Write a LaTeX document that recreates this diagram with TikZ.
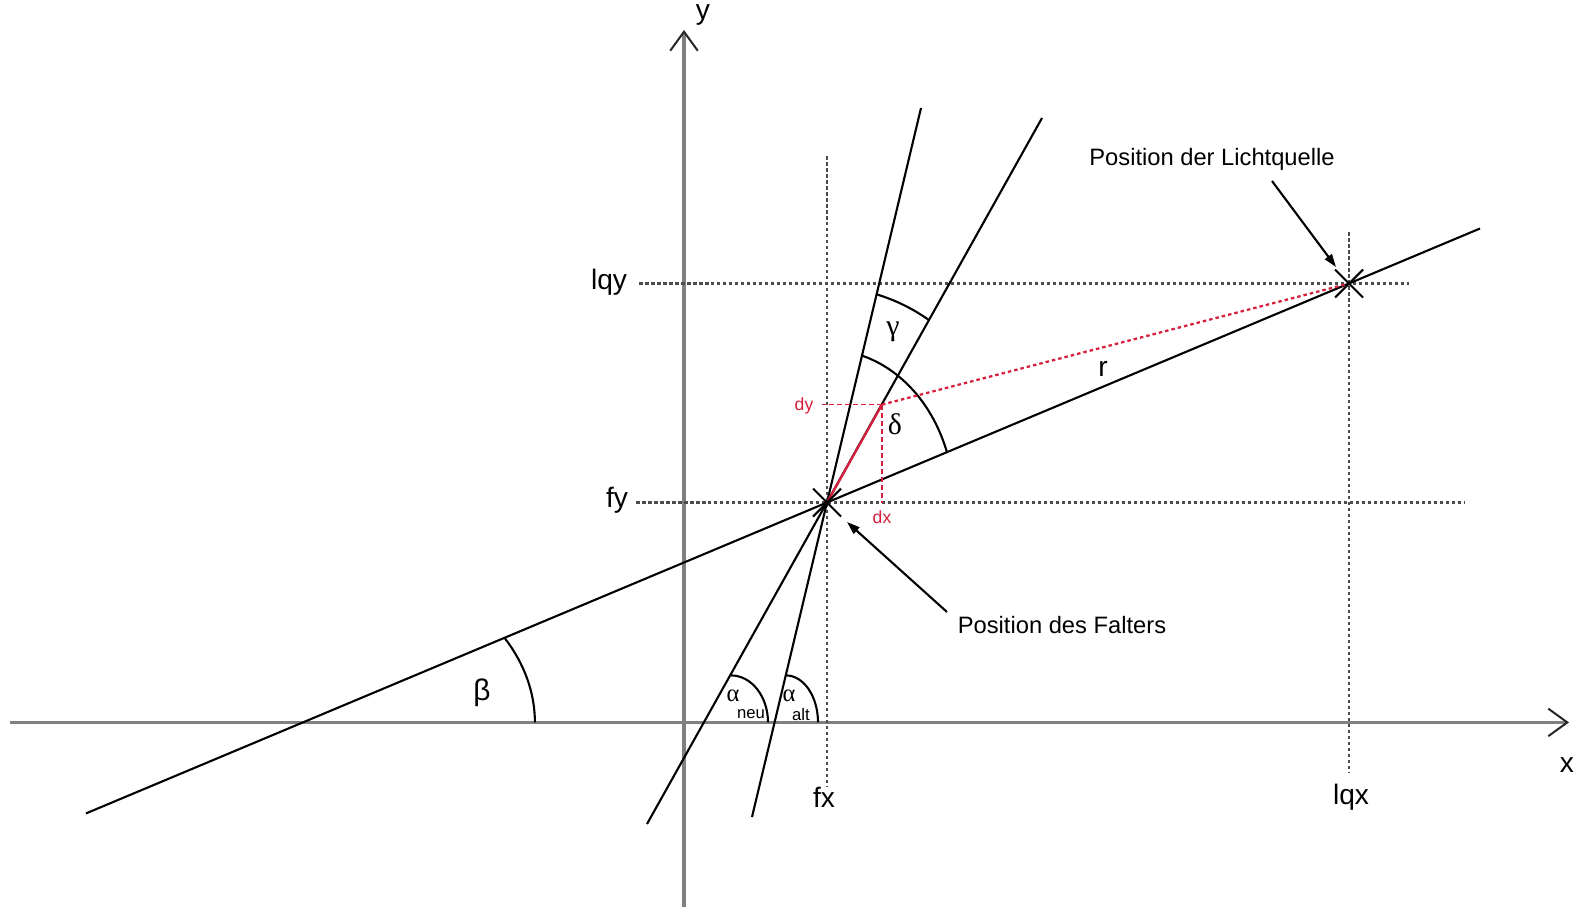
\documentclass[tikz,border=0pt]{standalone}
\usepackage{fontspec}
\setmainfont{Liberation Sans}
\newfontfamily\grk{Liberation Serif}
\usetikzlibrary{arrows.meta,calc}
\definecolor{axisgray}{RGB}{128,128,128}
\definecolor{lred}{RGB}{215,30,60}
\begin{document}
\begin{tikzpicture}[x=0.02cm,y=0.02cm,
  axis/.style={draw=axisgray,line width=0.065cm,-{Straight Barb[length=0.38cm,width=0.55cm,line width=0.04cm,color=black!85]}},
  guide/.style={draw=black!70,line width=0.05cm,dash pattern=on 0.07cm off 0.05cm},
  solidline/.style={draw=black,line width=0.042cm},
  anglearc/.style={draw=black,line width=0.042cm},
  redsolid/.style={draw=lred,line width=0.045cm},
  reddash/.style={draw=lred,line width=0.03cm,dash pattern=on 0.1cm off 0.06cm},
  reddot/.style={draw=lred,line width=0.045cm,dash pattern=on 0.07cm off 0.06cm},
  crossmark/.style={draw=black,line width=0.042cm},
  axlab/.style={font=\fontsize{16}{18}\selectfont,inner sep=0pt},
  redlab/.style={font=\fontsize{10}{12}\selectfont,text=lred,inner sep=0pt},
  grklab/.style={font=\grk\fontsize{17}{19}\selectfont,inner sep=0pt},
  alab/.style={font=\grk\fontsize{14}{15}\selectfont,inner sep=0pt},
  sublab/.style={font=\fontsize{9.5}{10}\selectfont,inner sep=0pt},
  betalab/.style={font=\fontsize{17}{19}\selectfont,inner sep=0pt},
  ann/.style={font=\fontsize{13.5}{16}\selectfont,inner sep=0pt},
  annarrow/.style={draw=black,line width=0.042cm,-{Triangle[length=0.26cm,width=0.17cm]}}
]
\useasboundingbox (0,0) rectangle (1582,-907);
\fill[white] (0,0) rectangle (1582,-907);

% coordinates
\coordinate (xL) at (10,-722.4);
\coordinate (xR) at (1569,-722.4);
\coordinate (yB) at (684,-907);
\coordinate (yT) at (684,-30);
\coordinate (F) at (827,-502.5);
\coordinate (L) at (1349,-283.5);
\coordinate (D) at (882,-404.6);
\coordinate (Dx) at (882,-502.5);
\coordinate (Dy) at (822,-404.6);
\coordinate (fyA) at (636,-502.5);
\coordinate (fyB) at (1465,-502.5);
\coordinate (lqyA) at (639,-283.5);
\coordinate (lqyB) at (1409,-283.5);
\coordinate (fxA) at (827,-156);
\coordinate (fxB) at (827,-787);
\coordinate (lqxA) at (1349,-232);
\coordinate (lqxB) at (1349,-772);
\coordinate (mA) at (86,-813.4);
\coordinate (mB) at (1480,-228.5);
\coordinate (nA) at (647,-824);
\coordinate (nB) at (1042,-118);
\coordinate (aA) at (752,-817);
\coordinate (aB) at (921,-108);
\coordinate (bC) at (302.9,-722.4);
\coordinate (nTop) at (731,-675.4);
\coordinate (aTop) at (786,-675.4);
\coordinate (lqArrS) at (1272,-181);
\coordinate (lqArrE) at (1336,-267);
\coordinate (fArrS) at (947,-612);
\coordinate (fArrE) at (847,-522);

% axes
\draw[axis] (xL) -- (xR);
\draw[axis] (yB) -- (yT);

% guide lines
\draw[guide] (fyA) -- (fyB);
\draw[guide] (lqyA) -- (lqyB);
\draw[guide] (fxA) -- (fxB);
\draw[guide] (lqxA) -- (lqxB);

% main lines
\draw[solidline] (mA) -- (mB);
\draw[solidline] (nA) -- (nB);
\draw[solidline] (aA) -- (aB);

% angle arcs
\draw[anglearc] (bC) ++(29.65:232 and 171) arc[start angle=29.65,end angle=0,x radius=232,y radius=171];
\draw[anglearc] (nTop) arc[start angle=90,end angle=0,x radius=37,y radius=47];
\draw[anglearc] (aTop) arc[start angle=90,end angle=0,x radius=32,y radius=47];
\draw[anglearc] (F) ++(57.8:191.6 and 215.5) arc[start angle=57.8,end angle=75.0,x radius=191.6,y radius=215.5];
\draw[anglearc] (F) ++(19.2:127 and 152.8) arc[start angle=19.2,end angle=74.0,x radius=127,y radius=152.8];

% red construction
\draw[reddash] (D) -- (Dy);
\draw[reddash] (D) -- (Dx);
\draw[reddot] (D) -- (L);
\draw[redsolid] (F) -- (D);

% crosses
\draw[crossmark] ($(F)+(-14,14)$) -- ($(F)+(14,-14)$);
\draw[crossmark] ($(F)+(-14,-14)$) -- ($(F)+(14,14)$);
\draw[crossmark] ($(L)+(-14,14)$) -- ($(L)+(14,-14)$);
\draw[crossmark] ($(L)+(-14,-14)$) -- ($(L)+(14,14)$);

% labels
\node[axlab] (ylab) at (703,-15) {y};
\node[axlab] (xlab) at (1567,-765) {x};
\node[axlab] (lqylab) at (609,-282) {lqy};
\node[axlab] (fylab) at (617,-500) {fy};
\node[axlab] (fxlab) at (824,-797) {fx};
\node[axlab] (lqxlab) at (1351,-797) {lqx};
\node[axlab] (rlab) at (1103,-369) {r};
\node[redlab] (dylab) at (804,-406) {dy};
\node[redlab] (dxlab) at (882,-517) {dx};
\node[grklab] (gam) at (893,-332) {γ};
\node[grklab] (del) at (895,-424) {δ};
\node[betalab] (bet) at (482,-693) {β};
\node[alab] (aneu) at (733,-696) {α};
\node[sublab] (aneusub) at (751,-714.5) {neu};
\node[alab] (aalt) at (789,-696) {α};
\node[sublab] (aaltsub) at (801,-714.5) {alt};

\node[ann] (lqtext) at (1212,-159) {Position der Lichtquelle};
\node[ann] (ftext) at (1062,-625) {Position des Falters};
\draw[annarrow] (lqArrS) -- (lqArrE);
\draw[annarrow] (fArrS) -- (fArrE);
\end{tikzpicture}
\end{document}
